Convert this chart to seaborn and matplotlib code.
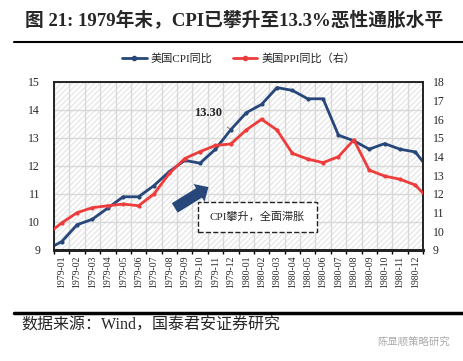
import numpy as np
import pandas as pd
import matplotlib.pyplot as plt
import seaborn as sns
from matplotlib.lines import Line2D
from matplotlib.patches import Rectangle

# monthly data, Dec 1978 .. Jan 1981 (the two edge months are clipped by the axes)
months = ['1978-12', '1979-01', '1979-02', '1979-03', '1979-04', '1979-05', '1979-06',
          '1979-07', '1979-08', '1979-09', '1979-10', '1979-11', '1979-12',
          '1980-01', '1980-02', '1980-03', '1980-04', '1980-05', '1980-06',
          '1980-07', '1980-08', '1980-09', '1980-10', '1980-11', '1980-12', '1981-01']
cpi = [9.0, 9.3, 9.9, 10.1, 10.5, 10.9, 10.9, 11.3, 11.8, 12.2, 12.1, 12.6, 13.3,
       13.9, 14.2, 14.8, 14.7, 14.4, 14.4, 13.1, 12.9, 12.6, 12.8, 12.6, 12.5, 11.8]
ppi = [9.8, 10.45, 11.0, 11.27, 11.37, 11.46, 11.37, 12.0, 13.1, 13.9, 14.27, 14.6, 14.68,
       15.43, 16.0, 15.43, 14.18, 13.87, 13.68, 14.0, 14.9, 13.28, 12.96, 12.79, 12.48, 11.6]

df = pd.DataFrame({'idx': np.arange(len(months)), 'month': months, 'cpi': cpi, 'ppi': ppi})

sns.set_style('white')
plt.rcParams['font.family'] = ['Liberation Serif', 'Noto Sans CJK SC']
plt.rcParams['axes.unicode_minus'] = False

blue = '#27477A'
red = '#EE3B3B'

fig = plt.figure(figsize=(4.64, 3.61), dpi=100)
ax = fig.add_axes([0.1164, 0.3075, 0.7953, 0.4654])
ax2 = ax.twinx()

# hatched background
ax.add_patch(Rectangle((0, 0), 1, 1, transform=ax.transAxes, facecolor='white',
                       edgecolor='#e8e8e8', hatch='//////', lw=0, zorder=0))

sns.lineplot(data=df, x='idx', y='cpi', ax=ax, color=blue, lw=2, marker='o',
             markersize=3, markeredgewidth=0, zorder=3)
sns.lineplot(data=df, x='idx', y='ppi', ax=ax2, color=red, lw=2, marker='o',
             markersize=3, markeredgewidth=0, zorder=3)

ax.set_xlim(0.5, 24.5)
ax.set_ylim(9, 15)
ax2.set_ylim(9, 18)
ax.set_yticks(range(9, 16))
ax2.set_yticks(range(9, 19))
ax.set_xticks(df['idx'][1:25])
ax.set_xticklabels(df['month'][1:25], rotation=90, fontsize=7)
ax.set_xticks(np.arange(0.5, 25, 1), minor=True)
ax.tick_params(axis='x', which='major', length=0, pad=4)
ax.tick_params(axis='x', which='minor', length=3, width=1, color='black', direction='out', bottom=True)
ax.tick_params(axis='y', labelsize=8.5, length=0, pad=10)
ax2.tick_params(axis='y', labelsize=8.5, length=0, pad=7)
ax.grid(True, which='minor', axis='x', color='#d8d8d8', lw=1)
ax.grid(True, which='major', axis='y', color='#d8d8d8', lw=1)
ax.set_axisbelow(True)
ax.set_xlabel('')
ax.set_ylabel('')
ax2.set_ylabel('')

for a in (ax, ax2):
    for s in a.spines.values():
        s.set_color('#222222')
        s.set_linewidth(1.2)
ax.spines['bottom'].set_linewidth(2)
ax2.spines['bottom'].set_linewidth(2)
ax.set_zorder(ax2.get_zorder() - 1)
ax2.patch.set_visible(False)

# annotation 13.30
ax.annotate('13.30', xy=(12, 13.3), xytext=(10.5, 13.9), fontsize=9, fontweight='bold',
            ha='center', va='center',
            arrowprops=dict(arrowstyle='-', color='#888888', lw=0.8, shrinkA=6, shrinkB=1))

# big block arrow
ax.annotate('', xy=(10.7, 11.3), xytext=(8.2, 10.45),
            arrowprops=dict(arrowstyle='simple,head_length=0.8,head_width=1.5,tail_width=0.8',
                            fc=blue, ec='none'))

# dashed text box
ax.add_patch(Rectangle((0.39, 0.107), 0.323, 0.179, transform=ax.transAxes, facecolor='white',
                       edgecolor='#222222', lw=1, ls='--', zorder=4))
ax.text(0.551, 0.196, 'CPI攀升，全面滞胀', transform=ax.transAxes, ha='center', va='center',
        fontsize=8, zorder=5)

# legend
handles = [Line2D([0], [0], color=blue, lw=2, marker='o', markersize=3),
           Line2D([0], [0], color=red, lw=2, marker='o', markersize=3)]
fig.legend(handles, ['美国CPI同比', '美国PPI同比（右）'], loc='center', ncol=2,
           bbox_to_anchor=(0.515, 0.837), frameon=False, fontsize=8, handlelength=2.2,
           columnspacing=1.8, handletextpad=0.4)

# title and footer
fig.text(0.054, 0.945, '图 21: 1979年末，CPI已攀升至13.3%恶性通胀水平', fontsize=13.5,
         fontweight='bold', ha='left', va='center')
fig.add_artist(Line2D([0.03, 1.0], [0.884, 0.884], color='black', lw=1.5))
fig.add_artist(Line2D([0.03, 1.0], [0.133, 0.133], color='black', lw=2.5))
fig.text(0.047, 0.097, '数据来源：Wind，国泰君安证券研究', fontsize=11.5, ha='left', va='center')
fig.text(0.97, 0.05, '陈显顺策略研究', fontsize=7.5, ha='right', va='center', color='#aaaaaa')

fig.savefig('out.png', dpi=100)
